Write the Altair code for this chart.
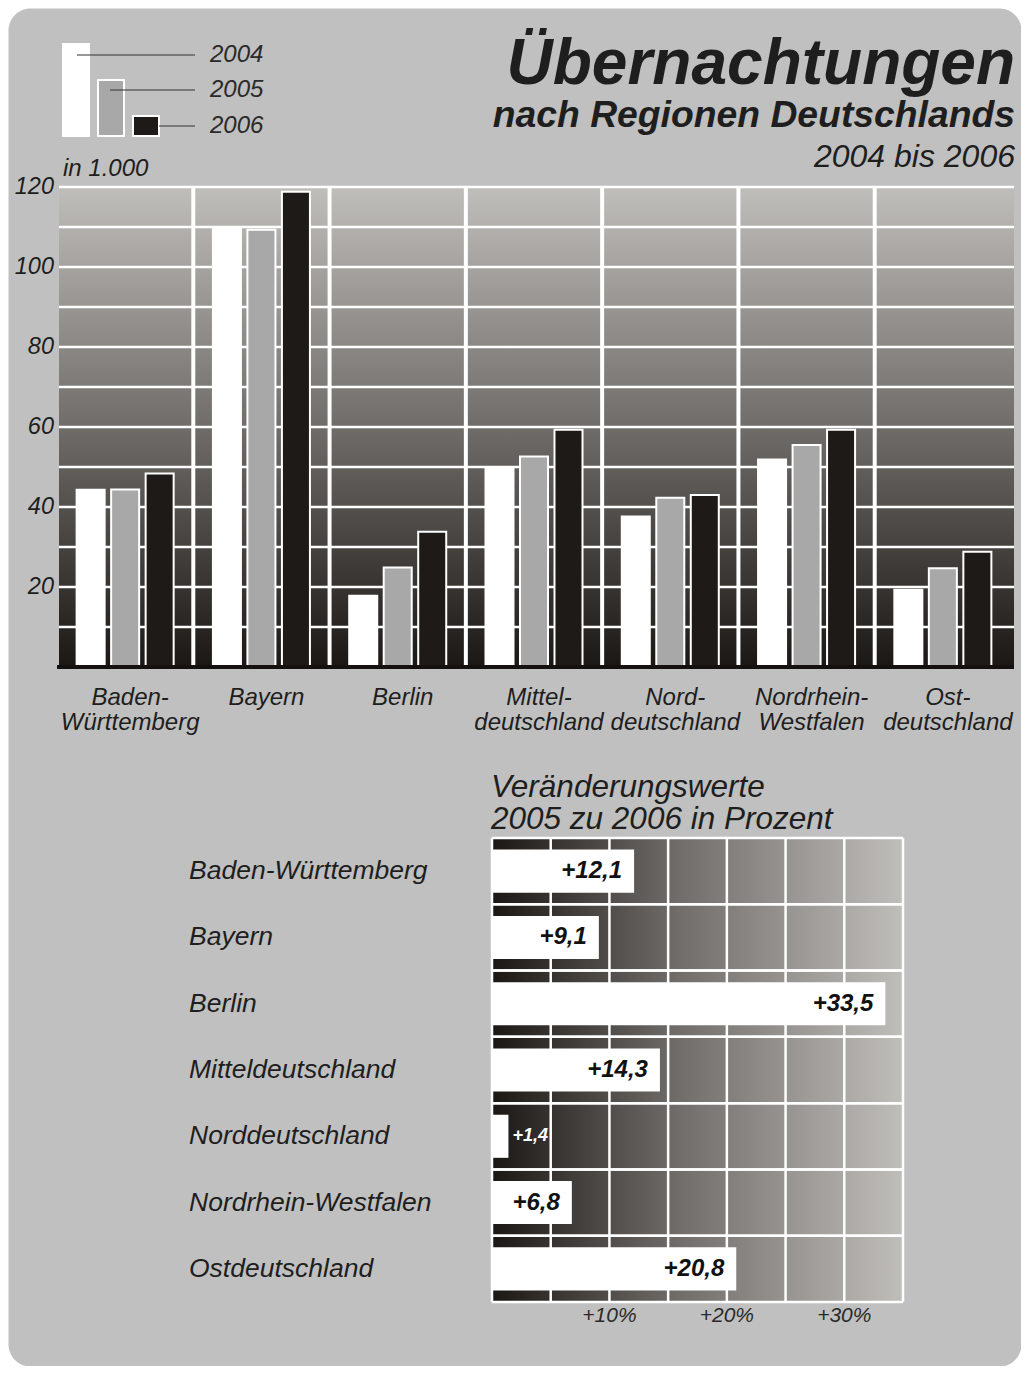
import altair as alt
import pandas as pd

# ---------------- data ----------------
regions = ["Baden-Württemberg", "Bayern", "Berlin", "Mitteldeutschland",
           "Norddeutschland", "Nordrhein-Westfalen", "Ostdeutschland"]
region_labels_top = ["Baden-\nWürttemberg", "Bayern", "Berlin", "Mittel-\ndeutschland",
                     "Nord-\ndeutschland", "Nordrhein-\nWestfalen", "Ost-\ndeutschland"]
years = ["2004", "2005", "2006"]
values_2004 = [44.3, 109.8, 17.8, 49.9, 37.6, 51.9, 19.3]
values_2005 = [44.4, 109.3, 24.9, 52.6, 42.3, 55.5, 24.7]
values_2006 = [48.4, 118.8, 33.8, 59.3, 43.0, 59.3, 28.8]
change_pct = [12.1, 9.1, 33.5, 14.3, 1.4, 6.8, 20.8]

y_grid_values = [10, 20, 30, 40, 50, 60, 70, 80, 90, 100, 110, 120]
y_tick_values = [20, 40, 60, 80, 100, 120]
pct_grid_values = [0, 5, 10, 15, 20, 25, 30, 35]
pct_tick_values = [10, 20, 30]
pct_tick_labels = ["+10%", "+20%", "+30%"]

# ---------------- layout (pixels, relative to chart origin) ----------------
W, H = 1013, 1358
FONT = "Liberation Sans"
TXT = "#1e1e1e"
TOP_X = [49, 1003]
TOP_Y = [659, 179]
BOT_X = [484, 895]
BOT_Y = [830, 1294]

one = pd.DataFrame({"k": [0]})

bars_df = pd.DataFrame({
    "region": regions * 3,
    "year": [y for y in years for _ in regions],
    "value": values_2004 + values_2005 + values_2006,
})
top_lab_df = pd.DataFrame({"region": regions, "label": region_labels_top})
sep_df = pd.DataFrame({"region": regions[1:]})
ygrid_df = pd.DataFrame({"g": y_grid_values})
ytick_df = pd.DataFrame({"v": y_tick_values})

chg_df = pd.DataFrame({
    "region": regions,
    "pct": change_pct,
    "label": ["+" + f"{v:.1f}".replace(".", ",") for v in change_pct],
})
pgrid_df = pd.DataFrame({"p": pct_grid_values})
ptick_df = pd.DataFrame({"p": pct_tick_values, "label": pct_tick_labels})
rows_df = pd.DataFrame({"region": regions})

# ---------------- scales ----------------
xs_top = alt.Scale(domain=regions, range=TOP_X, paddingInner=0, paddingOuter=0)
ys_top = alt.Scale(domain=[0, 120], range=TOP_Y, nice=False)
xs_bot = alt.Scale(domain=[0, 35], range=BOT_X, nice=False)
ys_bot = alt.Scale(domain=regions, range=BOT_Y, paddingInner=0, paddingOuter=0)

grad_v = alt.LinearGradient(
    gradient="linear",
    stops=[alt.GradientStop(color="#c0beba", offset=0),
           alt.GradientStop(color="#6f6c6a", offset=0.5),
           alt.GradientStop(color="#1b1715", offset=1)],
    x1=0, x2=0, y1=0, y2=1)
grad_h = alt.LinearGradient(
    gradient="linear",
    stops=[alt.GradientStop(color="#1b1715", offset=0),
           alt.GradientStop(color="#6f6c6a", offset=0.45),
           alt.GradientStop(color="#c0beba", offset=1)],
    x1=0, x2=1, y1=0, y2=0)

# ---------------- top chart ----------------
top_bg = alt.Chart(one).mark_rect(color=grad_v).encode(
    x=alt.value(51), x2=alt.value(1006),
    y=alt.Y(datum=120, scale=ys_top, axis=None), y2=alt.datum(0))

top_hgrid = alt.Chart(ygrid_df).mark_rule(color="white", strokeWidth=2.6).encode(
    y=alt.Y("g:Q", scale=ys_top, axis=None),
    x=alt.value(51), x2=alt.value(1006))

top_vsep = alt.Chart(sep_df).mark_rule(color="white", strokeWidth=4).encode(
    x=alt.X("region:N", scale=xs_top, bandPosition=0, axis=None),
    y=alt.Y(datum=120, scale=ys_top, axis=None), y2=alt.datum(0))

top_bars = alt.Chart(bars_df).mark_bar(stroke="white", strokeWidth=2).encode(
    x=alt.X("region:N", scale=xs_top, axis=None),
    xOffset=alt.XOffset("year:N", scale=alt.Scale(domain=years, paddingInner=0.188, paddingOuter=0.569)),
    y=alt.Y("value:Q", scale=ys_top, axis=None),
    color=alt.Color("year:N", scale=alt.Scale(domain=years, range=["#ffffff", "#a8a8a8", "#1e1a18"]), legend=None))

top_base = alt.Chart(one).mark_rule(color="#141110", strokeWidth=4).encode(
    x=alt.value(49), x2=alt.value(1006),
    y=alt.Y(datum=0, scale=ys_top, axis=None))

top_xlab = alt.Chart(top_lab_df).mark_text(
    font=FONT, fontSize=24, fontStyle="italic", color=TXT, lineBreak="\n",
    lineHeight=24.5, baseline="alphabetic", align="center", dx=5).encode(
    x=alt.X("region:N", scale=xs_top, axis=None), y=alt.value(697), text="label:N")

top_ylab = alt.Chart(ytick_df).mark_text(
    font=FONT, fontSize=23.5, fontStyle="italic", color=TXT, align="right", baseline="middle").encode(
    y=alt.Y("v:Q", scale=ys_top, axis=None), x=alt.value(46), text="v:Q")

top = alt.layer(top_bg, top_hgrid, top_vsep, top_bars, top_base, top_xlab, top_ylab)

# ---------------- bottom chart ----------------
bot_bg = alt.Chart(one).mark_rect(color=grad_h).encode(
    x=alt.X(datum=0, scale=xs_bot, axis=None), x2=alt.datum(35),
    y=alt.value(BOT_Y[0]), y2=alt.value(BOT_Y[1]))

bot_vgrid = alt.Chart(pgrid_df).mark_rule(color="white", strokeWidth=2.5).encode(
    x=alt.X("p:Q", scale=xs_bot, axis=None),
    y=alt.value(BOT_Y[0]), y2=alt.value(BOT_Y[1]))

bot_h0 = alt.Chart(rows_df).mark_rule(color="white", strokeWidth=2.5).encode(
    y=alt.Y("region:N", scale=ys_bot, bandPosition=0, axis=None),
    x=alt.X(datum=0, scale=xs_bot, axis=None), x2=alt.datum(35))
bot_h1 = alt.Chart(rows_df).mark_rule(color="white", strokeWidth=2.5).encode(
    y=alt.Y("region:N", scale=ys_bot, bandPosition=1, axis=None),
    x=alt.X(datum=0, scale=xs_bot, axis=None), x2=alt.datum(35))

bot_bars = alt.Chart(chg_df).mark_bar(color="white", height={"band": 0.65}).encode(
    x=alt.X("pct:Q", scale=xs_bot, axis=None),
    y=alt.Y("region:N", scale=ys_bot, axis=None))

bot_vals = alt.Chart(chg_df).transform_filter("datum.pct >= 5").mark_text(
    font=FONT, fontSize=24, fontStyle="italic", fontWeight="bold", color="#111111",
    align="right", baseline="middle", dx=-12).encode(
    x=alt.X("pct:Q", scale=xs_bot, axis=None),
    y=alt.Y("region:N", scale=ys_bot, axis=None), text="label:N")

bot_small = alt.Chart(chg_df).transform_filter("datum.pct < 5").mark_text(
    font=FONT, fontSize=18, fontStyle="italic", fontWeight="bold", color="white",
    align="left", baseline="middle", dx=4).encode(
    x=alt.X("pct:Q", scale=xs_bot, axis=None),
    y=alt.Y("region:N", scale=ys_bot, axis=None), text="label:N")

bot_names = alt.Chart(rows_df).mark_text(
    font=FONT, fontSize=26.5, fontStyle="italic", color=TXT, align="left", baseline="middle").encode(
    x=alt.value(181), y=alt.Y("region:N", scale=ys_bot, axis=None), text="region:N")

bot_ticks = alt.Chart(ptick_df).mark_text(
    font=FONT, fontSize=21, fontStyle="italic", color="#2a2a2a", align="center", baseline="middle").encode(
    x=alt.X("p:Q", scale=xs_bot, axis=None), y=alt.value(1308), text="label:N")

bottom = alt.layer(bot_bg, bot_vgrid, bot_h0, bot_h1, bot_bars, bot_vals, bot_small, bot_names, bot_ticks)

# ---------------- decoration: titles & legend ----------------
def text_at(txt, x, y, size, align="left", weight="normal", baseline="alphabetic", color=TXT, lh=None):
    kw = dict(font=FONT, fontSize=size, fontStyle="italic", fontWeight=weight, color=color,
              align=align, baseline=baseline)
    if lh is not None:
        kw["lineHeight"] = lh
        kw["lineBreak"] = "\n"
    return alt.Chart(one).mark_text(**kw).encode(x=alt.value(x), y=alt.value(y), text=alt.value(txt))

decor_layers = [
    text_at("Übernachtungen", 1007, 76, 64, align="right", weight="bold"),
    text_at("nach Regionen Deutschlands", 1007, 119, 37.3, align="right", weight="bold"),
    text_at("2004 bis 2006", 1007, 159, 32, align="right"),
    text_at("Veränderungswerte\n2005 zu 2006 in Prozent", 483, 789, 31.5, lh=32),
    text_at("in 1.000", 55, 168, 24),
]

legend_layout = {
    "2004": dict(box=(54, 35, 82, 129), line=(69, 187, 47), stroke=0),
    "2005": dict(box=(90, 72, 116, 128), line=(102, 187, 82), stroke=2),
    "2006": dict(box=(125, 108, 151, 128), line=(151, 187, 118), stroke=2),
}
year_colors = dict(zip(years, ["#ffffff", "#a8a8a8", "#1e1a18"]))
for yr in years:
    L = legend_layout[yr]
    x0, y0, x1, y1 = L["box"]
    rk = dict(color=year_colors[yr])
    if L["stroke"]:
        rk.update(stroke="white", strokeWidth=L["stroke"])
    decor_layers.append(alt.Chart(one).mark_rect(**rk).encode(
        x=alt.value(x0), x2=alt.value(x1), y=alt.value(y0), y2=alt.value(y1)))
for yr in years:
    lx0, lx1, ly = legend_layout[yr]["line"]
    decor_layers.append(alt.Chart(one).mark_rule(color="#333333", strokeWidth=1.2).encode(
        x=alt.value(lx0), x2=alt.value(lx1), y=alt.value(ly)))
    decor_layers.append(text_at(yr, 202, ly, 24, baseline="middle", color="#2a2a2a"))

decor = alt.layer(*decor_layers)

chart = alt.layer(top, bottom, decor).resolve_scale(
    x="independent", y="independent"
).properties(
    width=W, height=H, autosize=alt.AutoSizeParams(type="none"), padding=0, background="white"
).configure_view(fill="#c0c0c0", cornerRadius=22, stroke="transparent")

chart.save("out.html", embed_options={"renderer": "svg", "actions": False})
